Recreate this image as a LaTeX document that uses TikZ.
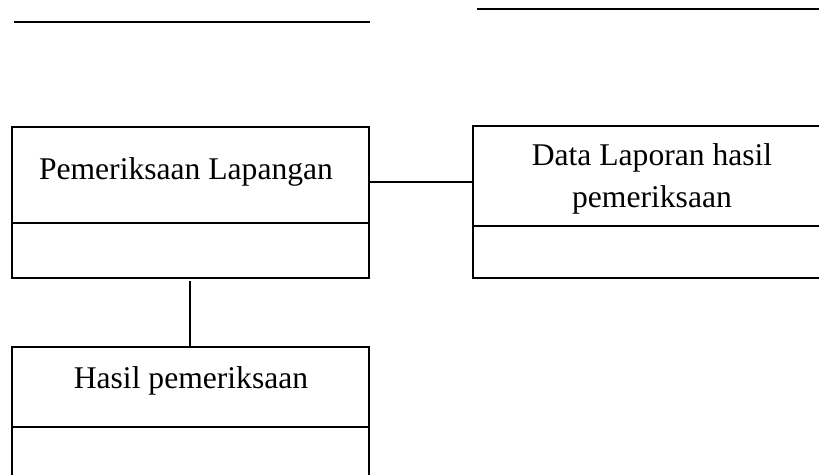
\documentclass[tikz,border=0pt]{standalone}
\usepackage{fontspec}
\setmainfont{Liberation Serif}
\begin{document}
\begin{tikzpicture}[x=1pt,y=-1pt,
  line width=2pt,
  classbox/.style={draw, rectangle, inner sep=0pt, anchor=north west},
  label/.style={font=\fontsize{31.6}{42}\selectfont, inner sep=0pt, anchor=base, align=center},
  rule/.style={line width=2pt}]
  \useasboundingbox (0,0) rectangle (819,474);
  \clip (0,0) rectangle (819,474);

  % two header rules
  \coordinate (ruleLa) at (13.5,21.5);
  \coordinate (ruleLb) at (370,21.5);
  \coordinate (ruleRa) at (477,9.3);
  \coordinate (ruleRb) at (825,9.3);
  \draw[rule] (ruleLa) -- (ruleLb);
  \draw[rule] (ruleRa) -- (ruleRb);

  % class boxes
  \node[classbox, minimum width=357pt, minimum height=151pt] (field) at (11,126) {};
  \node[classbox, minimum width=355pt, minimum height=152pt] (report) at (472,125) {};
  \node[classbox, minimum width=357pt, minimum height=140pt] (result) at (11,346) {};

  % compartment dividers
  \draw (field.west |- 0,223) -- (field.east |- 0,223);
  \draw (report.west |- 0,225.5) -- (report.east |- 0,225.5);
  \draw (result.west |- 0,427) -- (result.east |- 0,427);

  % names (a multi-line name sits on the baseline of its last line)
  \node[label] (fieldName) at (186,179) {Pemeriksaan Lapangan};
  \node[label] (reportName) at (652,207) {Data Laporan hasil\\pemeriksaan};
  \node[label] (resultName) at (191,388) {Hasil pemeriksaan};

  % associations
  \coordinate (fieldOut) at (370,182);
  \coordinate (fieldDown) at (190,281);
  \draw (fieldOut) -- (fieldOut -| report.west);
  \draw (fieldDown) -- (fieldDown |- result.north);
\end{tikzpicture}
\end{document}
